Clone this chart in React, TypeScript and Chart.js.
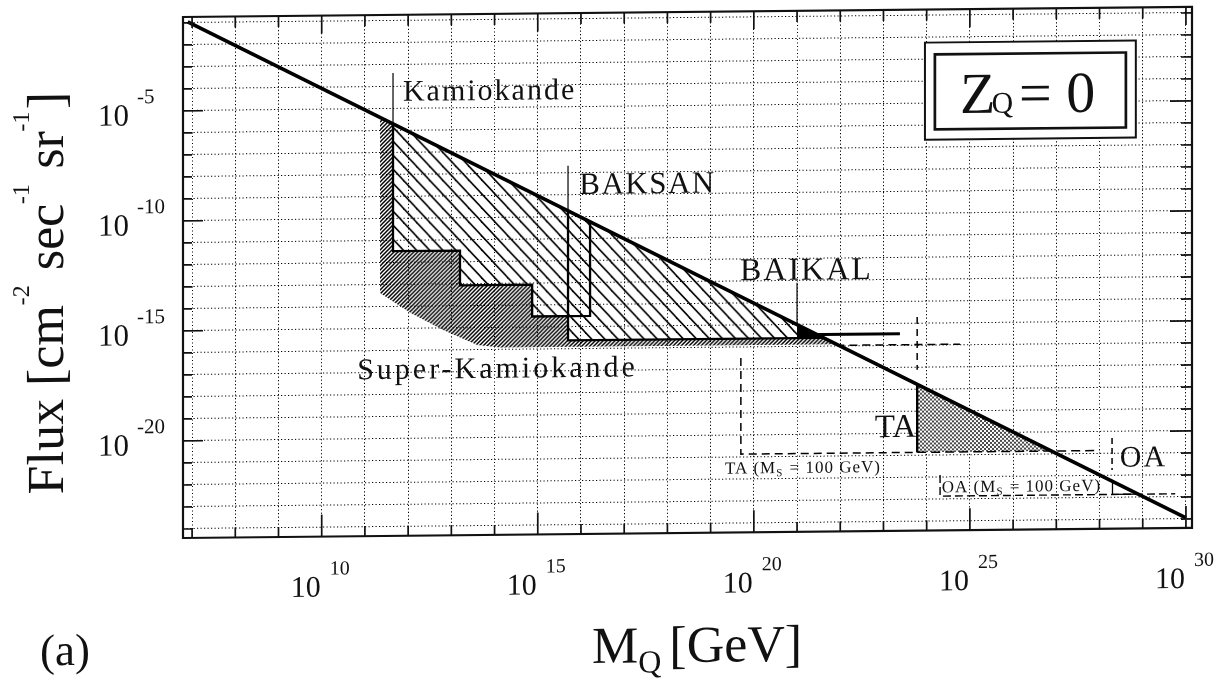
import React, { useEffect, useRef } from "react";
import { Chart, registerables } from "chart.js";

Chart.register(...registerables);

const SERIF = '"Liberation Serif", "Times New Roman", Times, serif';
const INK = "#111";
const SKEW = 0.00995; // scan skew of the original page
const SKEW_X0 = 183;

// ---------- axes (log10 units) ----------
const massAxisLog = [6.79, 30.14];
const fluxAxisLog = [-24.41, -0.73];
const massGridLog = [7, 30];
const fluxGridLog = [-24, -1];
const massTickLabels = [10, 15, 20, 25, 30];
const fluxTickLabels = [-5, -10, -15, -20];

// ---------- series (log10 M_Q [GeV], log10 Flux) ----------
const fluxLimitM = [6.9, 30.0];
const fluxLimitF = [-0.95, -23.95];

const kamLeaderM = [11.65, 11.65];
const kamLeaderF = [-3.37, -5.68];
const kamStepM = [11.65, 11.65, 13.2, 13.2, 14.87, 14.87, 16.21, 16.21];
const kamStepF = [-5.68, -11.47, -11.47, -13.05, -13.05, -14.5, -14.5, -10.22];

const baksanLeaderM = [15.7, 15.7];
const baksanLeaderF = [-7.67, -9.71];
const baksanEdgeM = [15.7, 15.7, 21.61];
const baksanEdgeF = [-9.71, -15.6, -15.6];

const baikalLeaderM = [21.0, 21.0];
const baikalLeaderF = [-13.09, -14.99];
const baikalEdgeM = [21.0, 23.38];
const baikalEdgeF = [-15.45, -15.45];
const baikalAreaM = [21.0, 21.0, 21.61];
const baikalAreaF = [-14.99, -15.6, -15.6];

const excludedM = [11.65, 11.65, 13.2, 13.2, 14.87, 14.87, 15.7, 15.7, 21.0, 21.0];
const excludedF = [-5.68, -11.47, -11.47, -13.05, -13.05, -14.5, -14.5, -15.6, -15.6, -14.99];

const superKM = [11.35, 11.35, 12.05, 12.81, 13.6, 14.13, 21.91, 21.0, 21.0, 15.7, 15.7, 14.87, 14.87, 13.2, 13.2, 11.65, 11.65];
const superKF = [-5.38, -13.36, -14.28, -15.07, -15.77, -15.9, -15.9, -14.99, -15.6, -15.6, -14.5, -14.5, -13.05, -13.05, -11.47, -11.47, -5.68];
const superKExtM = [21.91, 24.77];
const superKExtF = [-15.95, -15.95];

const taAreaM = [23.78, 23.78, 26.89];
const taAreaF = [-17.76, -20.85, -20.85];
const taEdgeM = [23.78, 23.78];
const taEdgeF = [-17.76, -20.85];
const taUpperM = [23.78, 23.78];
const taUpperF = [-14.7, -17.1];
const taBottomM = [23.78, 28.0];
const taBottomF = [-20.85, -20.85];
const taMsM = [19.7, 19.7, 23.78];
const taMsF = [-16.48, -20.85, -20.85];

const oaMarkM = [28.29, 28.29];
const oaMarkF = [-20.28, -21.74];
const oaMsM = [24.31, 24.31, 29.75];
const oaMsF = [-21.89, -22.85, -22.85];
const oaMsAreaM = [28.3, 28.3, 28.89];
const oaMsAreaF = [-22.26, -22.85, -22.85];

// ---------- annotations (anchored in data coordinates) ----------
const notes = [
  { text: "Kamiokande", m: 11.88, f: -4.64, size: 30, spacing: 2 },
  { text: "BAKSAN", m: 15.96, f: -8.95, size: 31, spacing: 1.5 },
  { text: "BAIKAL", m: 19.68, f: -12.95, size: 32, spacing: 2 },
  { text: "Super-Kamiokande", m: 10.82, f: -17.27, size: 30, spacing: 3 },
  { text: "TA", m: 22.8, f: -20.14, size: 33, spacing: 0 },
  { text: "OA", m: 28.47, f: -21.59, size: 30, spacing: 2 },
];
const smallNotes = [
  { pre: "TA (M", sub: "S", post: " = 100 GeV)", m: 19.33, f: -21.73 },
  { pre: "OA (M", sub: "S", post: " = 100 GeV)", m: 24.35, f: -22.68 },
];
const zBoxOuter = { m0: 23.96, m1: 28.84, f0: -2.23, f1: -6.64 };
const zBoxInner = { m0: 24.19, m1: 28.61, f0: -2.77, f1: -6.18 };
const zText = { m: 24.77, f: -5.45 };

const pts = (m: number[], f: number[]) => m.map((v, i) => ({ x: 10 ** v, y: 10 ** f[i] }));
const decades = (r: number[]) => {
  const out: { value: number }[] = [];
  for (let e = r[0]; e <= r[1]; e++) out.push({ value: 10 ** e });
  return out;
};

type Run = { t: string; size: number; dy: number; gap?: number; spacing?: number };
function drawRuns(ctx: CanvasRenderingContext2D, x: number, y: number, runs: Run[]) {
  let cx = x;
  for (const r of runs) {
    ctx.font = `${r.size}px ${SERIF}`;
    (ctx as any).letterSpacing = `${r.spacing || 0}px`;
    ctx.fillText(r.t, cx, y + r.dy);
    cx += ctx.measureText(r.t).width + (r.gap || 0);
  }
  (ctx as any).letterSpacing = "0px";
}

const paperPlugin = {
  id: "paper",
  beforeDraw(chart: any) {
    const c = chart.ctx as CanvasRenderingContext2D;
    c.save();
    c.transform(1, -SKEW, 0, 1, 0, SKEW * SKEW_X0);
  },
  afterDraw(chart: any) {
    const ctx = chart.ctx as CanvasRenderingContext2D;
    const a = chart.chartArea;
    const X = (e: number) => chart.scales.x.getPixelForValue(10 ** e);
    const Y = (e: number) => chart.scales.y.getPixelForValue(10 ** e);
    ctx.save();
    ctx.strokeStyle = INK;
    ctx.fillStyle = INK;

    // frame
    ctx.lineWidth = 2.2;
    ctx.strokeRect(a.left, a.top, a.right - a.left, a.bottom - a.top);

    // inward ticks
    ctx.lineWidth = 1.7;
    ctx.beginPath();
    for (let e = massGridLog[0]; e <= massGridLog[1]; e++) {
      const px = X(e);
      const major = massTickLabels.includes(e);
      ctx.moveTo(px, a.bottom);
      ctx.lineTo(px, a.bottom - (major ? 22 : 10));
      ctx.moveTo(px, a.top);
      ctx.lineTo(px, a.top + (major ? 18 : 11));
    }
    for (let e = fluxGridLog[0]; e <= fluxGridLog[1]; e++) {
      const py = Y(e);
      const major = fluxTickLabels.includes(e);
      ctx.moveTo(a.left, py);
      ctx.lineTo(a.left + (major ? 20 : 9), py);
      ctx.moveTo(a.right, py);
      ctx.lineTo(a.right - (major ? 22 : 11), py);
    }
    ctx.stroke();

    // tick labels 10^n
    ctx.textBaseline = "alphabetic";
    for (const e of massTickLabels) {
      const px = X(e);
      ctx.font = `30px ${SERIF}`;
      ctx.textAlign = "right";
      ctx.fillText("10", px - 1, a.bottom + 60);
      ctx.font = `20px ${SERIF}`;
      ctx.textAlign = "left";
      ctx.fillText(String(e), px + 8, a.bottom + 38);
    }
    for (const e of fluxTickLabels) {
      const py = Y(e);
      ctx.font = `31px ${SERIF}`;
      ctx.textAlign = "right";
      ctx.fillText("10", a.left - 54, py + 14);
      ctx.font = `21px ${SERIF}`;
      ctx.textAlign = "left";
      ctx.fillText(String(e), a.left - 46, py - 8);
    }

    // Z_Q = 0 box
    ctx.fillStyle = "#fff";
    ctx.fillRect(X(zBoxOuter.m0), Y(zBoxOuter.f0), X(zBoxOuter.m1) - X(zBoxOuter.m0), Y(zBoxOuter.f1) - Y(zBoxOuter.f0));
    ctx.fillStyle = INK;
    ctx.lineWidth = 2;
    ctx.strokeRect(X(zBoxOuter.m0), Y(zBoxOuter.f0), X(zBoxOuter.m1) - X(zBoxOuter.m0), Y(zBoxOuter.f1) - Y(zBoxOuter.f0));
    ctx.lineWidth = 2.7;
    ctx.strokeRect(X(zBoxInner.m0), Y(zBoxInner.f0), X(zBoxInner.m1) - X(zBoxInner.m0), Y(zBoxInner.f1) - Y(zBoxInner.f0));
    ctx.textAlign = "left";
    drawRuns(ctx, X(zText.m), Y(zText.f), [
      { t: "Z", size: 58, dy: 0, gap: -4 },
      { t: "Q", size: 30, dy: 0, gap: 6 },
      { t: "= 0", size: 58, dy: 0 },
    ]);

    // labels inside the plot
    for (const n of notes) {
      drawRuns(ctx, X(n.m), Y(n.f), [{ t: n.text, size: n.size, dy: 0, spacing: n.spacing }]);
    }
    for (const n of smallNotes) {
      drawRuns(ctx, X(n.m), Y(n.f), [
        { t: n.pre, size: 17, dy: 0, spacing: 1 },
        { t: n.sub, size: 11, dy: 3, spacing: 0, gap: 2 },
        { t: n.post, size: 17, dy: 0, spacing: 1 },
      ]);
    }

    // axis titles
    ctx.save();
    ctx.translate(63, 493);
    ctx.rotate(-Math.PI / 2);
    drawRuns(ctx, 0, 0, [
      { t: "Flux [cm", size: 52, dy: 0 },
      { t: "-2", size: 24, dy: -34, gap: 2 },
      { t: " sec", size: 52, dy: 0 },
      { t: "-1", size: 24, dy: -34, gap: 2 },
      { t: " sr", size: 52, dy: 0 },
      { t: "-1", size: 24, dy: -34, gap: 2 },
      { t: "]", size: 52, dy: 0 },
    ]);
    ctx.restore();

    drawRuns(ctx, 592, 667, [
      { t: "M", size: 52, dy: 0 },
      { t: "Q", size: 32, dy: 10, gap: 8 },
      { t: "[GeV]", size: 52, dy: 0 },
    ]);
    drawRuns(ctx, 40, 664, [{ t: "(a)", size: 45, dy: 0 }]);

    ctx.restore();
    ctx.restore(); // undo skew from beforeDraw
  },
};

export default function App() {
  const canvasRef = useRef<HTMLCanvasElement | null>(null);

  useEffect(() => {
    const canvas = canvasRef.current;
    if (!canvas) return;
    const ctx0 = canvas.getContext("2d")!;
    const makePattern = (w: number, h: number, paint: (g: CanvasRenderingContext2D) => void) => {
      const c = document.createElement("canvas");
      c.width = w;
      c.height = h;
      const g = c.getContext("2d")!;
      paint(g);
      return ctx0.createPattern(c, "repeat")!;
    };
    const hatchWide = makePattern(13, 14, (g) => {
      g.strokeStyle = "#000";
      g.lineWidth = 1.6;
      for (let k = -1; k <= 1; k++) {
        g.beginPath();
        g.moveTo(k * 13 - 2.6, -2.8);
        g.lineTo(k * 13 + 15.6, 16.8);
        g.stroke();
      }
    });
    const hatchDense = makePattern(4, 4, (g) => {
      g.strokeStyle = "#000";
      g.lineWidth = 1.5;
      for (let k = -1; k <= 1; k++) {
        g.beginPath();
        g.moveTo(k * 4 - 0.8, 4.8);
        g.lineTo(k * 4 + 4.8, -0.8);
        g.stroke();
      }
    });
    const stipple = makePattern(4, 4, (g) => {
      g.fillStyle = "#fff";
      g.fillRect(0, 0, 4, 4);
      g.fillStyle = "#4a4a4a";
      g.fillRect(0, 0, 2, 2);
      g.fillRect(2, 2, 2, 2);
    });

    const lineDs = (data: any[], width: number, dash: number[] = []) => ({
      data,
      borderColor: "#000",
      borderWidth: width,
      borderDash: dash,
      pointRadius: 0,
      fill: false,
      borderCapStyle: "butt",
      borderJoinStyle: "miter",
    });
    const areaDs = (data: any[], bg: any) => ({
      data,
      borderColor: "rgba(0,0,0,0)",
      borderWidth: 0,
      backgroundColor: bg,
      pointRadius: 0,
      fill: "shape",
    });

    // first dataset is drawn on top
    const datasets: any[] = [
      lineDs(pts(fluxLimitM, fluxLimitF), 3.6),
      lineDs(pts(kamLeaderM, kamLeaderF), 1.2),
      lineDs(pts(kamStepM, kamStepF), 2.3),
      lineDs(pts(baksanLeaderM, baksanLeaderF), 1.2),
      lineDs(pts(baksanEdgeM, baksanEdgeF), 2.3),
      lineDs(pts(baikalLeaderM, baikalLeaderF), 1.2),
      lineDs(pts(baikalEdgeM, baikalEdgeF), 2.8),
      lineDs(pts(taEdgeM, taEdgeF), 2.4),
      lineDs(pts(taUpperM, taUpperF), 1.5, [7, 5]),
      lineDs(pts(taBottomM, taBottomF), 1.5, [9, 5]),
      lineDs(pts(taMsM, taMsF), 1.5, [8, 5]),
      lineDs(pts(oaMarkM, oaMarkF), 1.5, [6, 4]),
      lineDs(pts(oaMsM, oaMsF), 1.4, [8, 4]),
      lineDs(pts(oaMsAreaM, oaMsAreaF), 1.3),
      lineDs(pts(superKExtM, superKExtF), 1.5, [8, 5]),
      areaDs(pts(baikalAreaM, baikalAreaF), "#000"),
      areaDs(pts(taAreaM, taAreaF), stipple),
      areaDs(pts(excludedM, excludedF), hatchWide),
      areaDs(pts(superKM, superKF), hatchDense),
    ];

    const gridCommon = { color: "#000", lineWidth: 1, drawTicks: false };
    const chart = new Chart(canvas, {
      type: "line",
      data: { datasets },
      options: {
        animation: false,
        responsive: true,
        maintainAspectRatio: false,
        events: [],
        layout: { padding: { left: 183, top: 17, right: 31, bottom: 151 } },
        plugins: {
          legend: { display: false },
          tooltip: { enabled: false },
          title: { display: false },
        },
        scales: {
          x: {
            type: "logarithmic",
            min: 10 ** massAxisLog[0],
            max: 10 ** massAxisLog[1],
            ticks: { display: false, autoSkip: false },
            grid: gridCommon,
            border: { display: false, dash: [1.2, 2.3] },
            afterBuildTicks: (s: any) => {
              s.ticks = decades(massGridLog);
            },
          },
          y: {
            type: "logarithmic",
            min: 10 ** fluxAxisLog[0],
            max: 10 ** fluxAxisLog[1],
            ticks: { display: false, autoSkip: false },
            grid: gridCommon,
            border: { display: false, dash: [1.2, 2.3] },
            afterBuildTicks: (s: any) => {
              s.ticks = decades(fluxGridLog);
            },
          },
        },
      } as any,
      plugins: [paperPlugin as any],
    });
    return () => chart.destroy();
  }, []);

  return (
    <div style={{ position: "absolute", left: 0, top: 0, width: 1223, height: 689, background: "#fff" }}>
      <canvas ref={canvasRef} />
    </div>
  );
}
